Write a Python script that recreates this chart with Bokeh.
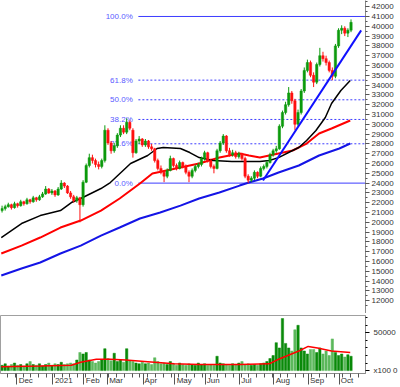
from bokeh.plotting import figure
from bokeh.layouts import column
from bokeh.models import Range1d, FixedTicker, ColumnDataSource
from bokeh.embed import file_html
from bokeh.resources import INLINE
from bokeh.core.properties import value

# ---- price data: two-trading-day candles, Nov 2020 .. Oct 2021 ----
opens = [21200, 21400, 21600, 21800, 21500, 21900, 21700, 22100, 21900, 22300,
         22100, 22500, 22300, 22600, 22900, 23400, 23000, 23200, 22800, 23400,
         24000, 23700, 23000, 22600, 22200, 22500, 21800, 24100, 25800, 26600,
         26300, 25900, 25700, 26300, 29400, 28100, 27300, 27800, 28900, 29600,
         29200, 30200, 29400, 27100, 28300, 28500, 27900, 28300, 27700, 27500,
         26300, 25500, 25100, 24700, 25300, 26500, 25800, 25500, 26100, 25700,
         25100, 24700, 25300, 25700, 25900, 26500, 27100, 26300, 25700, 25500,
         27300, 28100, 28800, 27300, 26900, 27100, 26700, 27000, 26500, 24700,
         24300, 24500, 25100, 24700, 25500, 25700, 26100, 26900, 27300, 27500,
         29800, 31200, 32000, 33200, 32400, 30000, 31200, 33400, 35500, 36300,
         35000, 34300, 36100, 37000, 36700, 36300, 35500, 34900, 38000, 39600,
         39800, 39300, 39600]
highs = [21700, 21800, 22000, 21900, 22100, 22000, 22300, 22200, 22500, 22400,
         22700, 22600, 22800, 23100, 23700, 23500, 23400, 23300, 23600, 24300,
         24100, 23800, 23200, 22800, 22700, 22600, 24300, 26000, 27000, 26900,
         26500, 26200, 26500, 29900, 29600, 28300, 28100, 29100, 29900, 29900,
         30600, 30400, 29600, 28500, 28800, 28600, 28500, 28400, 28000, 27600,
         26500, 25800, 25300, 25500, 26800, 26600, 26000, 26300, 26200, 25900,
         25300, 25500, 25900, 26100, 26700, 27300, 27200, 26500, 25900, 27500,
         28300, 29000, 28900, 27600, 27400, 27300, 27200, 27100, 26700, 24900,
         24700, 25300, 25200, 25700, 25900, 26300, 27100, 27500, 27800, 30000,
         31400, 32300, 33800, 33400, 32600, 31500, 33600, 35800, 36600, 36500,
         35300, 36300, 37800, 37400, 37000, 36500, 35800, 38200, 39800, 40100,
         40000, 39800, 40700]
lows = [21000, 21200, 21500, 21300, 21400, 21500, 21600, 21700, 21800, 21900,
        22000, 22100, 22200, 22500, 22800, 22900, 22800, 22600, 22700, 23300,
        23500, 22900, 22400, 22000, 22000, 20000, 21600, 24000, 25600, 26000,
        25600, 25400, 25500, 26100, 27900, 27000, 27100, 27600, 28700, 29000,
        29000, 29400, 26600, 27000, 28000, 27700, 27700, 27500, 27300, 26100,
        25300, 24900, 24100, 24500, 25200, 25600, 25300, 25400, 25500, 24900,
        24100, 24500, 25100, 25500, 25700, 26300, 26100, 25500, 25000, 25400,
        27100, 27900, 27100, 26700, 26700, 26500, 26500, 26300, 24500, 24000,
        24100, 24300, 24500, 24600, 25300, 25500, 26000, 26700, 27100, 27400,
        29600, 31000, 31800, 32100, 29400, 29800, 31000, 33200, 35300, 34800,
        33800, 34100, 35900, 36400, 36000, 35300, 34500, 34700, 37800, 39200,
        39000, 38900, 39400]
closes = [21400, 21600, 21800, 21500, 21900, 21700, 22100, 21900, 22300, 22100,
          22500, 22300, 22600, 22900, 23400, 23000, 23200, 22800, 23400, 24000,
          23700, 23000, 22600, 22200, 22500, 21800, 24100, 25800, 26600, 26300,
          25900, 25700, 26300, 29400, 28100, 27300, 27800, 28900, 29600, 29200,
          30200, 29600, 27100, 28300, 28500, 27900, 28300, 27700, 27500, 26300,
          25500, 25100, 24700, 25300, 26500, 25800, 25500, 26100, 25700, 25100,
          24700, 25300, 25700, 25900, 26500, 27100, 26300, 25700, 25500, 27300,
          28100, 28800, 27300, 26900, 27100, 26700, 27000, 26500, 24700, 24300,
          24500, 25100, 24700, 25500, 25700, 26100, 26900, 27300, 27500, 29800,
          31200, 32000, 33200, 32400, 30000, 31200, 33400, 35500, 36300, 35000,
          34300, 36100, 37000, 36700, 36300, 35500, 34900, 38000, 39600, 39800,
          39300, 39600, 40400]
volumes = [7000, 9000, 6000, 8000, 10000, 7000, 8000, 6000, 9000, 12000,
           8000, 7000, 9000, 6000, 8000, 10000, 7000, 9000, 8000, 11000,
           8000, 9000, 10000, 9000, 14000, 24000, 22000, 24000, 14000, 12000,
           10000, 12000, 14000, 29000, 16000, 13000, 23000, 12000, 14000, 11000,
           29000, 13000, 12000, 10000, 9000, 11000, 9000, 10000, 8000, 17000,
           12000, 9000, 10000, 8000, 12000, 9000, 7000, 10000, 8000, 7000,
           9000, 8000, 7000, 10000, 8000, 9000, 7000, 8000, 7000, 19000,
           10000, 9000, 8000, 7000, 9000, 8000, 10000, 12000, 8000, 9000,
           7000, 8000, 7000, 9000, 10000, 12000, 16000, 20000, 37000, 30000,
           69000, 36000, 30000, 26000, 54000, 60000, 30000, 26000, 22000, 28000,
           28000, 24000, 30000, 22000, 26000, 20000, 42000, 24000, 20000, 22000,
           18000, 21000, 19000]

# ---- moving averages (trading-day index, value) ----
ma50_day = [0, 13, 25, 38, 45, 51, 64, 70, 83, 94, 100, 104, 115, 121, 127, 136,
            148, 166, 172, 178, 187, 191, 196, 202, 208, 212, 218, 224]
ma50_val = [18450, 19880, 20690, 21200, 22020, 22430, 23450, 24060, 26000, 26820,
            27530, 27630, 27530, 27120, 26610, 26310, 26200, 26200, 26300, 26600,
            27330, 27630, 28350, 29370, 30690, 32120, 33450, 34470]
ma100_day = [0, 13, 25, 38, 51, 64, 76, 89, 97, 106, 115, 127, 140, 153, 159, 166,
             178, 187, 196, 204, 212, 224]
ma100_val = [16820, 17630, 18450, 19470, 20180, 21200, 22430, 23960, 24980, 25290,
             25590, 26000, 26610, 27020, 26820, 26610, 27020, 27330, 28040, 29060,
             29570, 30390]
ma200_day = [0, 13, 25, 38, 51, 64, 76, 89, 102, 115, 127, 140, 153, 159, 168, 178,
             191, 204, 217, 224]
ma200_val = [14570, 15290, 15900, 16820, 17630, 18650, 19470, 20390, 21000, 21710,
             22430, 23040, 23750, 24060, 24470, 25080, 25800, 26820, 27530, 28040]
vol_ma_day = [0, 25, 45, 51, 61, 70, 80, 92, 111, 127, 153, 172, 178, 191, 197, 203, 212, 224]
vol_ma_val = [5000, 6000, 7000, 11000, 15000, 15000, 14000, 12000, 9000, 8000,
              8000, 9000, 15000, 26000, 32000, 30000, 26000, 24000]

# ---- trend line and Fibonacci retracement ----
trend_day = [168, 231]
trend_price = [24270, 39580]
fib_low = 24000
fib_high = 41000
fib_start_day = 88
fib_pcts = [100.0, 61.8, 50.0, 38.2, 23.6, 0.0]
fib_labels = ["100.0%", "61.8%", "50.0%", "38.2%", "23.6%", "0.0%"]

# ---- date axis ----
month_days = [10, 33, 53, 68, 91, 111, 131, 153, 175, 197, 217]
month_names = ["Dec", "2021", "Feb", "Mar", "Apr", "May", "Jun", "Jul", "Aug", "Sep", "Oct"]
# non-breaking-space padding so each centred label sits just right of its tick
label_pad = [8, 10, 8, 8, 7, 9, 7, 6, 8, 8, 7]

FONT = "Liberation Sans"
X0, X1 = -0.5, 233.8

n = len(closes)
bar_day = [2 * k + 0.5 for k in range(n)]
up = [c >= o for o, c in zip(opens, closes)]
col = ["#0c9a0c" if u else "#ff1010" for u in up]
src = ColumnDataSource(dict(x=bar_day, o=opens, h=highs, l=lows, c=closes,
                            top=[max(a, b) for a, b in zip(opens, closes)],
                            bot=[min(a, b) for a, b in zip(opens, closes)],
                            col=col, vol=volumes,
                            vcol=["#0a8a0a" if u else "#5cb85c" for u in up]))

p = figure(width=400, height=313, x_range=Range1d(X0, X1), y_range=Range1d(10700, 42630),
           output_backend="svg", toolbar_location=None, y_axis_location="right",
           min_border_left=0, min_border_top=0, min_border_bottom=0, min_border_right=33)
p.xaxis.visible = False
p.grid.visible = False
p.outline_line_color = None
p.background_fill_color = "white"

ya = p.yaxis[0]
ya.ticker = FixedTicker(ticks=list(range(12000, 42001, 1000)),
                        minor_ticks=list(range(11500, 42600, 500)))
ya.axis_line_color = "#8a8a8a"
ya.major_tick_line_color = "#555555"
ya.minor_tick_line_color = "#555555"
ya.major_tick_out = 4
ya.major_tick_in = 0
ya.minor_tick_out = 2
ya.minor_tick_in = 0
ya.major_label_standoff = 2
ya.major_label_text_font = FONT
ya.major_label_text_font_size = "8px"
ya.major_label_text_color = "#333333"

# fib lines
span = fib_high - fib_low
for pct, lab in zip(fib_pcts, fib_labels):
    lvl = fib_low + span * pct / 100.0
    solid = pct in (0.0, 100.0)
    p.segment(x0=fib_start_day, y0=lvl, x1=X1 + 5, y1=lvl, line_color="#3c3cff",
              line_width=1, line_dash="solid" if solid else "2 2")
    p.text(x=[fib_start_day - 3.6], y=[lvl], text=[lab], text_align="right",
           text_baseline="middle", text_font=value(FONT), text_font_size="8px",
           text_color="#5a5aff")

# moving averages
p.line(ma200_day, ma200_val, line_color="#1414e6", line_width=2)
p.line(ma100_day, ma100_val, line_color="#ff0000", line_width=2)
p.line(ma50_day, ma50_val, line_color="#000000", line_width=1.5)

# candles
p.segment(x0="x", y0="l", x1="x", y1="h", line_color="col", line_width=1, source=src)
p.vbar(x="x", width=1.5, top="top", bottom="bot", fill_color="col", line_color="col",
       line_width=0.5, source=src)

# trend line
p.line(trend_day, trend_price, line_color="#1010ff", line_width=2)

# ---- volume panel ----
v = figure(width=400, height=74, x_range=p.x_range, y_range=Range1d(-3850, 73000),
           output_backend="svg", toolbar_location=None, y_axis_location="right",
           min_border_left=0, min_border_top=2, min_border_bottom=12, min_border_right=33)
v.grid.visible = False
v.outline_line_color = "#a0a0a0"
v.vbar(x="x", width=1.5, top="vol", bottom=0, fill_color="vcol", line_color="vcol",
       line_width=0.5, source=src)
v.line(vol_ma_day, vol_ma_val, line_color="#ff0000", line_width=1.5)

vy = v.yaxis[0]
vy.ticker = FixedTicker(ticks=[0, 50000], minor_ticks=list(range(10000, 72000, 10000)))
vy.major_label_overrides = {0: "x100 0", 50000: "50000"}
vy.axis_line_color = "#8a8a8a"
vy.major_tick_out = 4
vy.major_tick_in = 0
vy.minor_tick_out = 2
vy.minor_tick_in = 0
vy.major_label_standoff = 4
vy.major_label_text_font = FONT
vy.major_label_text_font_size = "8px"
vy.major_label_text_color = "#333333"

xa = v.xaxis[0]
xa.ticker = FixedTicker(ticks=month_days, minor_ticks=list(range(4, 234, 5)))
xa.major_label_overrides = {d: "\u00a0" * k + m
                            for d, m, k in zip(month_days, month_names, label_pad)}
xa.axis_line_color = "#8a8a8a"
xa.major_tick_line_color = "#555555"
xa.minor_tick_line_color = "#555555"
xa.major_tick_out = 11
xa.major_tick_in = 0
xa.minor_tick_out = 4
xa.minor_tick_in = 0
xa.major_label_standoff = -9
xa.major_label_text_font = FONT
xa.major_label_text_font_size = "8px"
xa.major_label_text_color = "#333333"

layout = column(p, v)
open("out.html", "w").write(file_html(layout, INLINE))
